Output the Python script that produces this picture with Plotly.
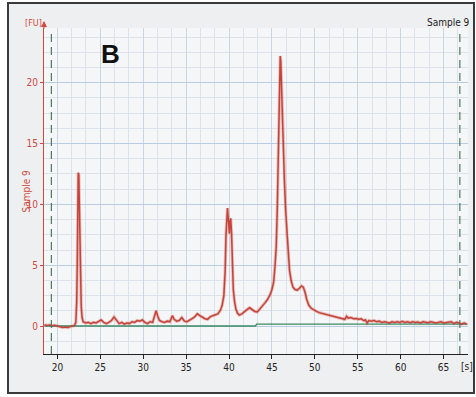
import plotly.graph_objects as go

# Electropherogram trace (time [s], fluorescence [FU])
time_s = [18.5, 18.8, 19.1, 19.4, 19.7, 20.0, 20.3, 20.6, 20.9, 21.2, 21.5, 21.8, 22.0,
          22.15, 22.25, 22.32, 22.38, 22.43, 22.50, 22.56, 22.62, 22.70, 22.78, 22.88,
          23.0, 23.3, 23.6, 23.9, 24.2, 24.5, 24.8, 25.1, 25.4, 25.7, 26.0, 26.3, 26.6,
          26.9, 27.2, 27.5, 27.8, 28.1, 28.4, 28.7, 29.0, 29.3, 29.6, 29.9, 30.2, 30.5,
          30.8, 31.1, 31.3, 31.5, 31.7, 31.9, 32.2, 32.5, 32.8, 33.1, 33.4, 33.6, 33.9,
          34.2, 34.5, 34.8, 35.1, 35.4, 35.7, 36.0, 36.3, 36.6, 36.9, 37.2, 37.5, 37.8,
          38.1, 38.4, 38.7, 39.0, 39.2, 39.4, 39.55, 39.65, 39.75, 39.82, 39.9, 39.98,
          40.05, 40.12, 40.2, 40.3, 40.4, 40.5, 40.65, 40.8, 41.0, 41.2, 41.5, 41.8,
          42.1, 42.4, 42.7, 43.0, 43.3, 43.6, 43.9, 44.2, 44.5, 44.8, 45.0, 45.2,
          45.35, 45.5, 45.62, 45.72, 45.82, 45.9, 45.97, 46.03, 46.1, 46.2, 46.3,
          46.45, 46.6, 46.75, 46.9, 47.05, 47.25, 47.45, 47.7, 47.95, 48.2, 48.45,
          48.65, 48.85, 49.05, 49.3, 49.6, 49.9, 50.2, 50.5, 50.8, 51.1, 51.4, 51.7,
          52.0, 52.3, 52.6, 52.9, 53.2, 53.5, 53.7, 53.9, 54.2, 54.5, 54.8, 55.1,
          55.4, 55.7, 55.9, 56.1, 56.3, 56.6, 56.9, 57.2, 57.5, 57.8, 58.1, 58.4,
          58.7, 59.0, 59.3, 59.6, 59.9, 60.2, 60.5, 60.8, 61.1, 61.4, 61.7, 62.0,
          62.3, 62.6, 62.9, 63.2, 63.5, 63.8, 64.1, 64.4, 64.7, 65.0, 65.3, 65.6,
          65.9, 66.2, 66.5, 66.8, 67.1, 67.4, 67.7]
fluor_fu = [0.10, 0.05, 0.08, 0.02, 0.06, 0.00, -0.05, -0.12, -0.08, -0.12, -0.05, -0.02, 0.05,
            0.3, 2.0, 5.2, 9.5, 12.6, 12.4, 10.0, 6.5, 3.5, 1.6, 0.7,
            0.35, 0.25, 0.3, 0.2, 0.3, 0.25, 0.35, 0.5, 0.3, 0.2, 0.3, 0.45, 0.75,
            0.5, 0.2, 0.3, 0.15, 0.25, 0.2, 0.35, 0.3, 0.45, 0.4, 0.5, 0.3, 0.2,
            0.35, 0.3, 0.7, 1.25, 0.8, 0.45, 0.35, 0.3, 0.4, 0.35, 0.85, 0.55, 0.4,
            0.45, 0.7, 0.4, 0.35, 0.45, 0.6, 0.75, 1.0, 0.85, 0.7, 0.6, 0.55, 0.75,
            0.85, 0.95, 1.0, 1.3, 1.7, 2.5, 4.5, 7.5, 9.6, 9.7, 9.0, 8.0,
            7.6, 8.6, 8.85, 7.5, 5.0, 3.0, 2.0, 1.4, 1.05, 0.9, 1.0, 1.2,
            1.35, 1.5, 1.35, 1.2, 1.15, 1.4, 1.6, 1.9, 2.2, 2.6, 3.0, 3.6,
            4.8, 6.5, 9.5, 13.5, 18.0, 21.0, 22.2, 21.8, 20.0, 17.5, 15.0,
            12.0, 9.5, 7.5, 5.8, 4.6, 3.7, 3.2, 3.0, 2.95, 3.1, 3.3,
            3.2, 2.8, 2.2, 1.7, 1.45, 1.3, 1.2, 1.1, 1.05, 0.95, 0.9, 0.85,
            0.8, 0.75, 0.7, 0.65, 0.6, 0.55, 0.8, 0.65, 0.7, 0.6, 0.62, 0.55,
            0.6, 0.45, 0.5, 0.25, 0.45, 0.4, 0.45, 0.35, 0.4, 0.3, 0.35, 0.3,
            0.25, 0.35, 0.3, 0.35, 0.3, 0.38, 0.3, 0.35, 0.28, 0.35, 0.3, 0.33,
            0.25, 0.35, 0.3, 0.28, 0.35, 0.3, 0.25, 0.3, 0.35, 0.25, 0.3, 0.3,
            0.35, 0.2, 0.3, 0.25, 0.15, 0.25, 0.15]

# Baseline (green)
baseline_x = [18.5, 43.1, 43.2, 67.8]
baseline_y = [0.0, 0.0, 0.15, 0.15]

# Dashed markers (start / end of analysis window)
marker_times = [19.3, 66.9]

x_ticks = [20, 25, 30, 35, 40, 45, 50, 55, 60, 65]
y_ticks = [0, 5, 10, 15, 20]

X_RANGE = [18.44, 67.85]
Y_RANGE = [-2.3, 24.5]

RED = "#cf4a3e"
TRACE = "#c4433a"
GREEN = "#3d8a66"
DASH = "#4f7a5e"
FONT = "DejaVu Sans Condensed, Liberation Sans Narrow, Arial Narrow, sans-serif"

fig = go.Figure()

# halo under main trace
fig.add_trace(go.Scatter(x=time_s, y=fluor_fu, mode="lines",
                         line=dict(color="rgba(214,120,110,0.45)", width=3.2),
                         hoverinfo="skip", showlegend=False))
fig.add_trace(go.Scatter(x=baseline_x, y=baseline_y, mode="lines",
                         line=dict(color=GREEN, width=1.3), showlegend=False))
fig.add_trace(go.Scatter(x=time_s, y=fluor_fu, mode="lines",
                         line=dict(color=TRACE, width=1.5), showlegend=False))

for t in marker_times:
    fig.add_trace(go.Scatter(x=[t, t], y=[Y_RANGE[0], 24.2], mode="lines",
                             line=dict(color=DASH, width=1.2, dash="8px,5px"),
                             showlegend=False, hoverinfo="skip"))

FR_L, FR_R, FR_T, FR_B = 8, 474, 3, 393
px2x = lambda p: (p - 44) / 424
py2y = lambda p: (354 - p) / 326

shapes = [
    # white outside of frame
    dict(type="rect", xref="paper", yref="paper", x0=-0.2, x1=px2x(FR_L), y0=-0.3, y1=1.3,
         fillcolor="white", line=dict(width=0), layer="below"),
    dict(type="rect", xref="paper", yref="paper", x0=px2x(FR_R), x1=1.2, y0=-0.3, y1=1.3,
         fillcolor="white", line=dict(width=0), layer="below"),
    dict(type="rect", xref="paper", yref="paper", x0=-0.2, x1=1.2, y0=py2y(FR_T), y1=1.3,
         fillcolor="white", line=dict(width=0), layer="below"),
    dict(type="rect", xref="paper", yref="paper", x0=-0.2, x1=1.2, y0=-0.3, y1=py2y(FR_B),
         fillcolor="white", line=dict(width=0), layer="below"),
    # frame
    dict(type="rect", xref="paper", yref="paper", x0=px2x(FR_L), x1=px2x(FR_R),
         y0=py2y(FR_B), y1=py2y(FR_T),
         line=dict(color="#3a3a3a", width=2), fillcolor="rgba(0,0,0,0)", layer="above"),
]

def ann(text, px, py, **kw):
    d = dict(text=text, x=px2x(px), y=py2y(py), xref="paper", yref="paper",
             xanchor="center", yanchor="middle", showarrow=False)
    d.update(kw)
    return d

annotations = [
    ann("<b>B</b>", 110.5, 54, font=dict(family="Arial, Liberation Sans, sans-serif", size=26, color="#111111")),
    ann("Sample 9", 448, 22, font=dict(family=FONT, size=10, color="#222222")),
    ann("[FU]", 33.5, 23, font=dict(family=FONT, size=9, color=RED)),
    ann("[s]", 466.5, 366.5, font=dict(family=FONT, size=10, color="#222222")),
    ann("Sample 9", 26, 191.5, textangle=-90, font=dict(family=FONT, size=10, color=RED)),
    # y-axis arrow head
    dict(text="", x=0, y=py2y(21), xref="paper", yref="paper",
         showarrow=True, ax=0, ay=9, arrowhead=2, arrowsize=1, arrowwidth=1.2, arrowcolor=RED),
]

fig.update_layout(
    width=476, height=397,
    margin=dict(l=44, r=8, t=28, b=43),
    paper_bgcolor="#eeeff0",
    plot_bgcolor="#f5f6f8",
    shapes=shapes,
    annotations=annotations,
    showlegend=False,
)

fig.update_xaxes(
    range=X_RANGE, tickvals=x_ticks, ticktext=[str(v) for v in x_ticks],
    showline=True, linecolor="#222222", linewidth=1.2,
    ticks="outside", ticklen=4, tickcolor="#222222", tickwidth=1.2,
    tickfont=dict(family=FONT, size=10, color="#222222"),
    showgrid=True, gridcolor="#c8d5e2", gridwidth=1,
    minor=dict(dtick=5 / 3, tick0=20, showgrid=True, gridcolor="#dce2ea", gridwidth=1),
    zeroline=False,
)
fig.update_yaxes(
    range=Y_RANGE, tickvals=y_ticks, ticktext=[str(v) for v in y_ticks],
    showline=True, linecolor=RED, linewidth=1.2,
    ticks="outside", ticklen=3, tickcolor=RED, tickwidth=1.2,
    tickfont=dict(family=FONT, size=10, color=RED),
    showgrid=True, gridcolor="#b8cde0", gridwidth=1,
    minor=dict(dtick=1.25, tick0=0, showgrid=True, gridcolor="#dce2ea", gridwidth=1),
    zeroline=False,
)

fig.write_html("out.html")
